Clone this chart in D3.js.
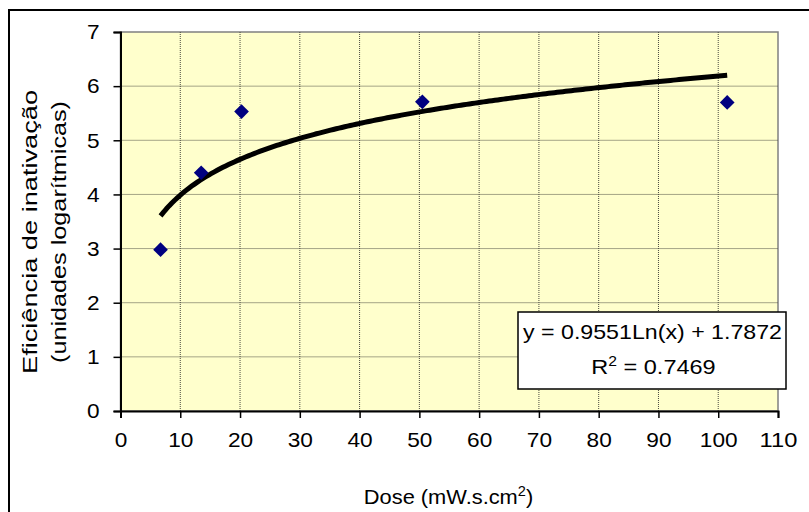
<!DOCTYPE html>
<html>
<head>
<meta charset="utf-8">
<script src="https://cdn.jsdelivr.net/npm/d3@7/dist/d3.min.js"></script>
<style>
  html, body { margin: 0; padding: 0; background: #fff; }
  svg text { font-family: Arial, "Liberation Sans", sans-serif; fill: #000; }
</style>
</head>
<body>
<svg id="chart" width="809" height="512"></svg>
<script>
// Measured dose and inactivation efficiency
const doses = [6.7, 13.5, 20.25, 50.5, 101.5];
const efficiency = [2.98, 4.40, 5.53, 5.71, 5.70];

// Logarithmic trend line y = a·ln(x) + b
const trendSlope = 0.9551;
const trendIntercept = 1.7872;
const rSquared = 0.7469;

const xTicks = [0, 10, 20, 30, 40, 50, 60, 70, 80, 90, 100, 110];
const yTicks = [0, 1, 2, 3, 4, 5, 6, 7];

const yTitleLines = ["Eficiência de inativação", "(unidades logarítmicas)"];

const svg = d3.select("#chart");
const W = 809, H = 512;

const plot = { left: 120.5, right: 778, top: 32, bottom: 411 };

const x = d3.scaleLinear().domain([0, 110]).range([plot.left, plot.right]);
const y = d3.scaleLinear().domain([0, 7]).range([plot.bottom, plot.top]);

const FONT = 21;

// outer chart frame (runs off the page on the right and bottom)
svg.append("rect")
  .attr("x", 9).attr("y", 10)
  .attr("width", W + 20).attr("height", H + 20)
  .attr("fill", "#fff").attr("stroke", "#000").attr("stroke-width", 2);

// plot area
svg.append("rect")
  .attr("x", plot.left).attr("y", plot.top)
  .attr("width", plot.right - plot.left).attr("height", plot.bottom - plot.top)
  .attr("fill", "#FFFFCC").attr("stroke", "#808080").attr("stroke-width", 1.5);

// dotted grid
const grid = svg.append("g")
  .attr("stroke", "#4a4a40").attr("stroke-width", 1).attr("stroke-dasharray", "1,1");
grid.selectAll("line.v").data(xTicks.slice(1, -1)).join("line")
  .attr("x1", d => x(d)).attr("x2", d => x(d))
  .attr("y1", plot.top).attr("y2", plot.bottom);
grid.selectAll("line.h").data(yTicks.slice(1, -1)).join("line")
  .attr("x1", plot.left).attr("x2", plot.right)
  .attr("y1", d => y(d)).attr("y2", d => y(d));

// axes
const xAxis = d3.axisBottom(x).tickValues(xTicks).tickSize(7).tickPadding(14).tickFormat(d3.format("d"));
const yAxis = d3.axisLeft(y).tickValues(yTicks).tickSize(7).tickPadding(14).tickFormat(d3.format("d"));

const gx = svg.append("g").attr("transform", `translate(0,${plot.bottom})`).call(xAxis);
const gy = svg.append("g").attr("transform", `translate(${plot.left},0)`).call(yAxis);

[gx, gy].forEach(g => {
  g.select(".domain").attr("stroke", "#000").attr("stroke-width", 2);
  g.selectAll(".tick line").attr("stroke", "#000").attr("stroke-width", 1.5);
  g.selectAll(".tick text")
    .attr("font-family", "Arial, 'Liberation Sans', sans-serif")
    .attr("font-size", FONT).attr("fill", "#000")
    .attr("textLength", d => String(d).length * 12.6)
    .attr("lengthAdjust", "spacingAndGlyphs");
});

// trend line
const trendX = d3.range(0, 201).map(i => doses[0] + (doses[doses.length - 1] - doses[0]) * i / 200);
const line = d3.line().x(d => x(d)).y(d => y(trendSlope * Math.log(d) + trendIntercept));
svg.append("path")
  .datum(trendX)
  .attr("d", line)
  .attr("fill", "none").attr("stroke", "#000").attr("stroke-width", 5)
  .attr("stroke-linejoin", "round");

// data markers (navy diamonds)
svg.selectAll("path.pt").data(doses.map((d, i) => [d, efficiency[i]])).join("path")
  .attr("class", "pt")
  .attr("transform", d => `translate(${x(d[0])},${y(d[1])}) rotate(45)`)
  .attr("d", d3.symbol().type(d3.symbolSquare).size(108))
  .attr("fill", "#000080");

// equation label box
const box = svg.append("g");
box.append("rect")
  .attr("x", 518).attr("y", 312).attr("width", 268).attr("height", 77)
  .attr("fill", "#fff").attr("stroke", "#000").attr("stroke-width", 1.5);
box.append("text").attr("x", 652.5).attr("y", 339)
  .attr("text-anchor", "middle").attr("font-size", FONT)
  .attr("textLength", 259).attr("lengthAdjust", "spacingAndGlyphs")
  .text(`y = ${trendSlope.toFixed(4)}Ln(x) + ${trendIntercept.toFixed(4)}`);
const r2 = box.append("text")
  .attr("transform", "translate(653.5,374) scale(1.12,1)")
  .attr("text-anchor", "middle").attr("font-size", FONT);
r2.append("tspan").text("R");
r2.append("tspan").attr("font-size", 14).attr("dy", -8).text("2");
r2.append("tspan").attr("dy", 8).text(` = ${rSquared.toFixed(4)}`);

// x-axis title
const xt = svg.append("text")
  .attr("transform", "translate(448.5,504) scale(1.04,1)")
  .attr("text-anchor", "middle").attr("font-size", FONT);
xt.append("tspan").text("Dose (mW.s.cm");
xt.append("tspan").attr("font-size", 14).attr("dy", -8).text("2");
xt.append("tspan").attr("dy", 8).text(")");

// y-axis title (two rotated lines)
const yt = svg.append("g")
  .attr("transform", `translate(0,232) rotate(-90)`);
const yTitleLengths = [284, 262];
yTitleLines.forEach((t, i) => {
  yt.append("text").attr("x", 0).attr("y", 37 + i * 29)
    .attr("text-anchor", "middle").attr("font-size", FONT)
    .attr("textLength", yTitleLengths[i]).attr("lengthAdjust", "spacingAndGlyphs")
    .text(t);
});
</script>
</body>
</html>
